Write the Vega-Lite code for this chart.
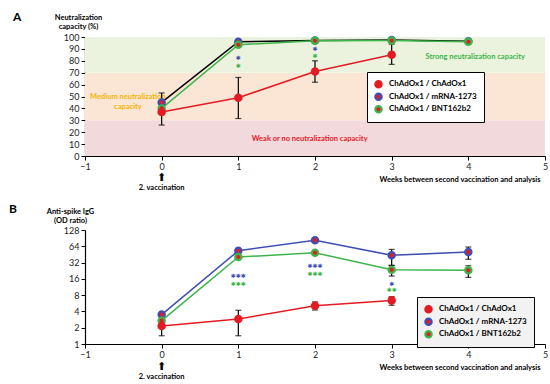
{
  "$schema": "https://vega.github.io/schema/vega-lite/v6.json",
  "background": "white",
  "padding": {"left": 9, "top": 11, "right": 2, "bottom": 0},
  "config": {
    "font": "Lato",
    "view": {"stroke": null},
    "axis": {"grid": false, "domainColor": "#000", "tickColor": "#000", "labelColor": "#222", "labelFontSize": 9, "tickSize": 4, "domainWidth": 1.2, "tickWidth": 1, "titleFontSize": 7.5, "titleFontWeight": "bold", "titleColor": "#000", "labelFlush": false, "labelOverlap": false, "titleLineHeight": 9}
  },
  "datasets": {
    "a": [
      {"week": 0, "group": "ChAdOx1 / mRNA-1273", "value": 45},
      {"week": 1, "group": "ChAdOx1 / mRNA-1273", "value": 96},
      {"week": 2, "group": "ChAdOx1 / mRNA-1273", "value": 97},
      {"week": 3, "group": "ChAdOx1 / mRNA-1273", "value": 97.5},
      {"week": 4, "group": "ChAdOx1 / mRNA-1273", "value": 96.5},
      {"week": 0, "group": "ChAdOx1 / BNT162b2", "value": 40},
      {"week": 1, "group": "ChAdOx1 / BNT162b2", "value": 93.5},
      {"week": 2, "group": "ChAdOx1 / BNT162b2", "value": 96.8},
      {"week": 3, "group": "ChAdOx1 / BNT162b2", "value": 97},
      {"week": 4, "group": "ChAdOx1 / BNT162b2", "value": 96},
      {"week": 0, "group": "ChAdOx1 / ChAdOx1", "value": 37},
      {"week": 1, "group": "ChAdOx1 / ChAdOx1", "value": 49},
      {"week": 2, "group": "ChAdOx1 / ChAdOx1", "value": 71},
      {"week": 3, "group": "ChAdOx1 / ChAdOx1", "value": 85}
    ],
    "aErr": [
      {"week": 0, "group": "ChAdOx1 / ChAdOx1", "value": 26, "value2": 53},
      {"week": 1, "group": "ChAdOx1 / ChAdOx1", "value": 31.5, "value2": 66},
      {"week": 2, "group": "ChAdOx1 / ChAdOx1", "value": 62, "value2": 80},
      {"week": 3, "group": "ChAdOx1 / ChAdOx1", "value": 77, "value2": 94}
    ],
    "aStar": [
      {"week": 1, "group": "ChAdOx1 / mRNA-1273", "value": 82.6, "label": "✱"},
      {"week": 1, "group": "ChAdOx1 / BNT162b2", "value": 75.6, "label": "✱"},
      {"week": 2, "group": "ChAdOx1 / mRNA-1273", "value": 89.6, "label": "✱"},
      {"week": 2, "group": "ChAdOx1 / BNT162b2", "value": 84, "label": "✱"}
    ],
    "bands": [
      {"band": "weak", "value": 0, "value2": 30},
      {"band": "medium", "value": 30, "value2": 70},
      {"band": "strong", "value": 70, "value2": 100}
    ],
    "b": [
      {"week": 0, "group": "ChAdOx1 / mRNA-1273", "value": 3.5},
      {"week": 1, "group": "ChAdOx1 / mRNA-1273", "value": 53},
      {"week": 2, "group": "ChAdOx1 / mRNA-1273", "value": 83},
      {"week": 3, "group": "ChAdOx1 / mRNA-1273", "value": 43.5},
      {"week": 4, "group": "ChAdOx1 / mRNA-1273", "value": 50},
      {"week": 0, "group": "ChAdOx1 / BNT162b2", "value": 2.7},
      {"week": 1, "group": "ChAdOx1 / BNT162b2", "value": 40.5},
      {"week": 2, "group": "ChAdOx1 / BNT162b2", "value": 48.6},
      {"week": 3, "group": "ChAdOx1 / BNT162b2", "value": 23.6},
      {"week": 4, "group": "ChAdOx1 / BNT162b2", "value": 23},
      {"week": 0, "group": "ChAdOx1 / ChAdOx1", "value": 2.15},
      {"week": 1, "group": "ChAdOx1 / ChAdOx1", "value": 2.9},
      {"week": 2, "group": "ChAdOx1 / ChAdOx1", "value": 5.1},
      {"week": 3, "group": "ChAdOx1 / ChAdOx1", "value": 6.4}
    ],
    "bErr": [
      {"week": 0, "group": "ChAdOx1 / ChAdOx1", "value": 1.42, "value2": 2.77},
      {"week": 1, "group": "ChAdOx1 / ChAdOx1", "value": 1.42, "value2": 4.2},
      {"week": 2, "group": "ChAdOx1 / ChAdOx1", "value": 4.25, "value2": 6.0},
      {"week": 3, "group": "ChAdOx1 / ChAdOx1", "value": 5.2, "value2": 7.5},
      {"week": 3, "group": "ChAdOx1 / mRNA-1273", "value": 28.4, "value2": 56},
      {"week": 4, "group": "ChAdOx1 / mRNA-1273", "value": 36.8, "value2": 62},
      {"week": 3, "group": "ChAdOx1 / BNT162b2", "value": 18, "value2": 28.4},
      {"week": 4, "group": "ChAdOx1 / BNT162b2", "value": 17, "value2": 27.9}
    ],
    "bStar": [
      {"week": 1, "group": "ChAdOx1 / mRNA-1273", "value": 18, "label": "✱✱✱"},
      {"week": 1, "group": "ChAdOx1 / BNT162b2", "value": 12.7, "label": "✱✱✱"},
      {"week": 2, "group": "ChAdOx1 / mRNA-1273", "value": 27.9, "label": "✱✱✱"},
      {"week": 2, "group": "ChAdOx1 / BNT162b2", "value": 19.6, "label": "✱✱✱"},
      {"week": 3, "group": "ChAdOx1 / mRNA-1273", "value": 13, "label": "✱"},
      {"week": 3, "group": "ChAdOx1 / BNT162b2", "value": 9.9, "label": "✱✱"}
    ]
  },
  "spacing": 74,
  "bounds": "flush",
  "resolve": {"scale": {"x": "independent", "y": "independent", "color": "independent", "stroke": "independent"}, "legend": {"stroke": "independent", "color": "independent"}},
  "vconcat": [
    {
      "width": 460,
      "height": 119,
      "title": {"text": "A", "anchor": "start", "frame": "group", "dx": -72, "dy": 11, "offset": 0, "fontSize": 12, "fontWeight": "bold", "color": "#000"},
      "resolve": {"scale": {"color": "independent", "stroke": "independent"}},
      "layer": [
        {
          "data": {"name": "bands"},
          "mark": {"type": "rect"},
          "encoding": {
            "x": {"datum": -1, "type": "quantitative", "scale": {"domain": [-1, 5]}, "title": "Weeks between second vaccination and analysis", "axis": {"values": [-1, 0, 1, 2, 3, 4, 5], "format": "d", "labelOverlap": false, "titleX": 455, "titleY": 23, "titleAlign": "right", "titleAnchor": null, "titleBaseline": "middle"}},
            "x2": {"datum": 5},
            "y": {"field": "value", "type": "quantitative", "scale": {"domain": [0, 100]}, "title": ["Neutralization", "capacity (%)"], "axis": {"values": [0, 10, 20, 30, 40, 50, 60, 70, 80, 90, 100], "labelOverlap": false, "titleAngle": 0, "titleAlign": "center", "titleBaseline": "bottom", "titleX": -7, "titleY": -16, "titleAnchor": null}},
            "y2": {"field": "value2"},
            "color": {"field": "band", "type": "nominal", "scale": {"domain": ["weak", "medium", "strong"], "range": ["#f2d9dc", "#fbe6d6", "#ebf3de"]}, "legend": null}
          }
        },
        {
          "data": {"values": [{}]},
          "mark": {"type": "text", "text": "Medium neutralization\ncapacity", "lineBreak": "\n", "fontSize": 7.5, "fontWeight": "bold", "color": "#f2b400", "lineHeight": 10},
          "encoding": {
            "x": {"datum": -0.44, "type": "quantitative", "title": "Weeks between second vaccination and analysis", "axis": {"values": [-1, 0, 1, 2, 3, 4, 5], "format": "d", "labelOverlap": false, "titleX": 455, "titleY": 23, "titleAlign": "right", "titleAnchor": null, "titleBaseline": "middle"}},
            "y": {"datum": 50, "type": "quantitative", "title": ["Neutralization", "capacity (%)"], "axis": {"values": [0, 10, 20, 30, 40, 50, 60, 70, 80, 90, 100], "labelOverlap": false, "titleAngle": 0, "titleAlign": "center", "titleBaseline": "bottom", "titleX": -7, "titleY": -16, "titleAnchor": null}}
          }
        },
        {
          "data": {"values": [{}]},
          "mark": {"type": "text", "text": "Strong neutralization capacity", "fontSize": 7.5, "fontWeight": "bold", "color": "#3cb44a"},
          "encoding": {
            "x": {"datum": 4.09, "type": "quantitative", "title": "Weeks between second vaccination and analysis", "axis": {"values": [-1, 0, 1, 2, 3, 4, 5], "format": "d", "labelOverlap": false, "titleX": 455, "titleY": 23, "titleAlign": "right", "titleAnchor": null, "titleBaseline": "middle"}},
            "y": {"datum": 83.2, "type": "quantitative", "title": ["Neutralization", "capacity (%)"], "axis": {"values": [0, 10, 20, 30, 40, 50, 60, 70, 80, 90, 100], "labelOverlap": false, "titleAngle": 0, "titleAlign": "center", "titleBaseline": "bottom", "titleX": -7, "titleY": -16, "titleAnchor": null}}
          }
        },
        {
          "data": {"values": [{}]},
          "mark": {"type": "text", "text": "Weak or no neutralization capacity", "fontSize": 7.5, "fontWeight": "bold", "color": "#e5202a"},
          "encoding": {
            "x": {"datum": 1.93, "type": "quantitative", "title": "Weeks between second vaccination and analysis", "axis": {"values": [-1, 0, 1, 2, 3, 4, 5], "format": "d", "labelOverlap": false, "titleX": 455, "titleY": 23, "titleAlign": "right", "titleAnchor": null, "titleBaseline": "middle"}},
            "y": {"datum": 14.5, "type": "quantitative", "title": ["Neutralization", "capacity (%)"], "axis": {"values": [0, 10, 20, 30, 40, 50, 60, 70, 80, 90, 100], "labelOverlap": false, "titleAngle": 0, "titleAlign": "center", "titleBaseline": "bottom", "titleX": -7, "titleY": -16, "titleAnchor": null}}
          }
        },
        {
          "data": {"name": "aErr"},
          "mark": {"type": "errorbar", "ticks": {"size": 6}, "color": "#000", "thickness": 1.2},
          "encoding": {
            "x": {"field": "week", "type": "quantitative", "title": "Weeks between second vaccination and analysis", "axis": {"values": [-1, 0, 1, 2, 3, 4, 5], "format": "d", "labelOverlap": false, "titleX": 455, "titleY": 23, "titleAlign": "right", "titleAnchor": null, "titleBaseline": "middle"}},
            "y": {"field": "value", "type": "quantitative", "title": ["Neutralization", "capacity (%)"], "axis": {"values": [0, 10, 20, 30, 40, 50, 60, 70, 80, 90, 100], "labelOverlap": false, "titleAngle": 0, "titleAlign": "center", "titleBaseline": "bottom", "titleX": -7, "titleY": -16, "titleAnchor": null}},
            "y2": {"field": "value2"}
          }
        },
        {
          "data": {"name": "a"},
          "mark": {"type": "line", "strokeWidth": 1.5},
          "encoding": {
            "x": {"field": "week", "type": "quantitative", "title": "Weeks between second vaccination and analysis", "axis": {"values": [-1, 0, 1, 2, 3, 4, 5], "format": "d", "labelOverlap": false, "titleX": 455, "titleY": 23, "titleAlign": "right", "titleAnchor": null, "titleBaseline": "middle"}},
            "y": {"field": "value", "type": "quantitative", "title": ["Neutralization", "capacity (%)"], "axis": {"values": [0, 10, 20, 30, 40, 50, 60, 70, 80, 90, 100], "labelOverlap": false, "titleAngle": 0, "titleAlign": "center", "titleBaseline": "bottom", "titleX": -7, "titleY": -16, "titleAnchor": null}},
            "color": {"field": "group", "type": "nominal", "scale": {"domain": ["ChAdOx1 / ChAdOx1", "ChAdOx1 / mRNA-1273", "ChAdOx1 / BNT162b2"], "range": ["#e31b23", "#000000", "#3cb44a"]}, "legend": null}
          }
        },
        {
          "data": {"name": "a"},
          "mark": {"type": "circle", "fill": "#e31b23", "size": 40, "strokeWidth": 2.2, "opacity": 1},
          "encoding": {
            "x": {"field": "week", "type": "quantitative", "title": "Weeks between second vaccination and analysis", "axis": {"values": [-1, 0, 1, 2, 3, 4, 5], "format": "d", "labelOverlap": false, "titleX": 455, "titleY": 23, "titleAlign": "right", "titleAnchor": null, "titleBaseline": "middle"}},
            "y": {"field": "value", "type": "quantitative", "title": ["Neutralization", "capacity (%)"], "axis": {"values": [0, 10, 20, 30, 40, 50, 60, 70, 80, 90, 100], "labelOverlap": false, "titleAngle": 0, "titleAlign": "center", "titleBaseline": "bottom", "titleX": -7, "titleY": -16, "titleAnchor": null}},
            "stroke": {"field": "group", "type": "nominal", "sort": null, "scale": {"domain": ["ChAdOx1 / ChAdOx1", "ChAdOx1 / mRNA-1273", "ChAdOx1 / BNT162b2"], "range": ["#e31b23", "#3f4fb3", "#3cb44a"]},
              "legend": {"title": null, "orient": "none", "legendX": 282, "legendY": 35, "fillColor": "#ffffff", "strokeColor": "#000", "padding": 7, "clipHeight": 10.5, "labelFontSize": 8, "labelFontWeight": "bold", "labelColor": "#000", "symbolSize": 40, "symbolStrokeWidth": 2.2, "symbolFillColor": "#e31b23", "symbolType": "circle", "rowPadding": 1.5, "labelOffset": 6}}
          }
        },
        {
          "data": {"name": "aStar"},
          "mark": {"type": "text", "font": "DejaVu Sans", "fontSize": 6, "baseline": "middle"},
          "encoding": {
            "x": {"field": "week", "type": "quantitative", "title": "Weeks between second vaccination and analysis", "axis": {"values": [-1, 0, 1, 2, 3, 4, 5], "format": "d", "labelOverlap": false, "titleX": 455, "titleY": 23, "titleAlign": "right", "titleAnchor": null, "titleBaseline": "middle"}},
            "y": {"field": "value", "type": "quantitative", "title": ["Neutralization", "capacity (%)"], "axis": {"values": [0, 10, 20, 30, 40, 50, 60, 70, 80, 90, 100], "labelOverlap": false, "titleAngle": 0, "titleAlign": "center", "titleBaseline": "bottom", "titleX": -7, "titleY": -16, "titleAnchor": null}},
            "text": {"field": "label"},
            "color": {"field": "group", "type": "nominal", "scale": {"domain": ["ChAdOx1 / mRNA-1273", "ChAdOx1 / BNT162b2"], "range": ["#3f4fb3", "#3cb44a"]}, "legend": null}
          }
        },
        {
          "data": {"values": [{}]},
          "mark": {"type": "text", "text": "⬆", "font": "DejaVu Sans", "fontSize": 11, "color": "#000", "baseline": "middle"},
          "encoding": {
            "x": {"datum": 0, "type": "quantitative", "title": "Weeks between second vaccination and analysis", "axis": {"values": [-1, 0, 1, 2, 3, 4, 5], "format": "d", "labelOverlap": false, "titleX": 455, "titleY": 23, "titleAlign": "right", "titleAnchor": null, "titleBaseline": "middle"}},
            "y": {"datum": -18.5, "type": "quantitative", "title": ["Neutralization", "capacity (%)"], "axis": {"values": [0, 10, 20, 30, 40, 50, 60, 70, 80, 90, 100], "labelOverlap": false, "titleAngle": 0, "titleAlign": "center", "titleBaseline": "bottom", "titleX": -7, "titleY": -16, "titleAnchor": null}}
          }
        },
        {
          "data": {"values": [{}]},
          "mark": {"type": "text", "text": "2. vaccination", "fontSize": 7.5, "fontWeight": "bold", "color": "#000", "baseline": "middle"},
          "encoding": {
            "x": {"datum": 0, "type": "quantitative", "title": "Weeks between second vaccination and analysis", "axis": {"values": [-1, 0, 1, 2, 3, 4, 5], "format": "d", "labelOverlap": false, "titleX": 455, "titleY": 23, "titleAlign": "right", "titleAnchor": null, "titleBaseline": "middle"}},
            "y": {"datum": -26.5, "type": "quantitative", "title": ["Neutralization", "capacity (%)"], "axis": {"values": [0, 10, 20, 30, 40, 50, 60, 70, 80, 90, 100], "labelOverlap": false, "titleAngle": 0, "titleAlign": "center", "titleBaseline": "bottom", "titleX": -7, "titleY": -16, "titleAnchor": null}}
          }
        }
      ]
    },
    {
      "width": 460,
      "height": 114,
      "title": {"text": "B", "anchor": "start", "frame": "group", "dx": -76, "dy": 9, "offset": 0, "fontSize": 12, "fontWeight": "bold", "color": "#000"},
      "resolve": {"scale": {"color": "independent", "stroke": "independent"}},
      "layer": [
        {
          "data": {"name": "bErr"},
          "mark": {"type": "errorbar", "ticks": {"size": 6}, "color": "#000", "thickness": 1.2},
          "encoding": {
            "x": {"field": "week", "type": "quantitative", "scale": {"domain": [-1, 5]}, "title": "Weeks between second vaccination and analysis", "axis": {"values": [-1, 0, 1, 2, 3, 4, 5], "format": "d", "labelOverlap": false, "titleX": 455, "titleY": 23, "titleAlign": "right", "titleAnchor": null, "titleBaseline": "middle"}},
            "y": {"field": "value", "type": "quantitative", "scale": {"type": "log", "base": 2, "domain": [1, 128]}, "title": ["Anti-spike IgG", "(OD ratio)"], "axis": {"values": [1, 2, 4, 8, 16, 32, 64, 128], "format": "d", "labelOverlap": false, "titleAngle": 0, "titleAlign": "center", "titleBaseline": "bottom", "titleX": -15, "titleY": -15, "titleAnchor": null}},
            "y2": {"field": "value2"}
          }
        },
        {
          "data": {"name": "b"},
          "mark": {"type": "line", "strokeWidth": 1.5},
          "encoding": {
            "x": {"field": "week", "type": "quantitative", "title": "Weeks between second vaccination and analysis", "axis": {"values": [-1, 0, 1, 2, 3, 4, 5], "format": "d", "labelOverlap": false, "titleX": 455, "titleY": 23, "titleAlign": "right", "titleAnchor": null, "titleBaseline": "middle"}},
            "y": {"field": "value", "type": "quantitative", "title": ["Anti-spike IgG", "(OD ratio)"], "axis": {"values": [1, 2, 4, 8, 16, 32, 64, 128], "format": "d", "labelOverlap": false, "titleAngle": 0, "titleAlign": "center", "titleBaseline": "bottom", "titleX": -15, "titleY": -15, "titleAnchor": null}},
            "color": {"field": "group", "type": "nominal", "scale": {"domain": ["ChAdOx1 / ChAdOx1", "ChAdOx1 / mRNA-1273", "ChAdOx1 / BNT162b2"], "range": ["#e31b23", "#3f4fb3", "#3cb44a"]}, "legend": null}
          }
        },
        {
          "data": {"name": "b"},
          "mark": {"type": "circle", "fill": "#e31b23", "size": 40, "strokeWidth": 2.2, "opacity": 1},
          "encoding": {
            "x": {"field": "week", "type": "quantitative", "title": "Weeks between second vaccination and analysis", "axis": {"values": [-1, 0, 1, 2, 3, 4, 5], "format": "d", "labelOverlap": false, "titleX": 455, "titleY": 23, "titleAlign": "right", "titleAnchor": null, "titleBaseline": "middle"}},
            "y": {"field": "value", "type": "quantitative", "title": ["Anti-spike IgG", "(OD ratio)"], "axis": {"values": [1, 2, 4, 8, 16, 32, 64, 128], "format": "d", "labelOverlap": false, "titleAngle": 0, "titleAlign": "center", "titleBaseline": "bottom", "titleX": -15, "titleY": -15, "titleAnchor": null}},
            "stroke": {"field": "group", "type": "nominal", "sort": null, "scale": {"domain": ["ChAdOx1 / ChAdOx1", "ChAdOx1 / mRNA-1273", "ChAdOx1 / BNT162b2"], "range": ["#e31b23", "#3f4fb3", "#3cb44a"]},
              "legend": {"title": null, "orient": "none", "legendX": 332, "legendY": 67, "fillColor": "#f2f2f2", "strokeColor": "#000", "padding": 7, "clipHeight": 10.5, "labelFontSize": 8, "labelFontWeight": "bold", "labelColor": "#000", "symbolSize": 40, "symbolStrokeWidth": 2.2, "symbolFillColor": "#e31b23", "symbolType": "circle", "rowPadding": 1.5, "labelOffset": 6}}
          }
        },
        {
          "data": {"name": "bStar"},
          "mark": {"type": "text", "font": "DejaVu Sans", "fontSize": 6, "baseline": "middle"},
          "encoding": {
            "x": {"field": "week", "type": "quantitative", "title": "Weeks between second vaccination and analysis", "axis": {"values": [-1, 0, 1, 2, 3, 4, 5], "format": "d", "labelOverlap": false, "titleX": 455, "titleY": 23, "titleAlign": "right", "titleAnchor": null, "titleBaseline": "middle"}},
            "y": {"field": "value", "type": "quantitative", "title": ["Anti-spike IgG", "(OD ratio)"], "axis": {"values": [1, 2, 4, 8, 16, 32, 64, 128], "format": "d", "labelOverlap": false, "titleAngle": 0, "titleAlign": "center", "titleBaseline": "bottom", "titleX": -15, "titleY": -15, "titleAnchor": null}},
            "text": {"field": "label"},
            "color": {"field": "group", "type": "nominal", "scale": {"domain": ["ChAdOx1 / mRNA-1273", "ChAdOx1 / BNT162b2"], "range": ["#3f4fb3", "#3cb44a"]}, "legend": null}
          }
        },
        {
          "data": {"values": [{}]},
          "mark": {"type": "text", "text": "⬆", "font": "DejaVu Sans", "fontSize": 11, "color": "#000", "baseline": "middle"},
          "encoding": {
            "x": {"datum": 0, "type": "quantitative", "title": "Weeks between second vaccination and analysis", "axis": {"values": [-1, 0, 1, 2, 3, 4, 5], "format": "d", "labelOverlap": false, "titleX": 455, "titleY": 23, "titleAlign": "right", "titleAnchor": null, "titleBaseline": "middle"}},
            "y": {"datum": 0.38, "type": "quantitative", "title": ["Anti-spike IgG", "(OD ratio)"], "axis": {"values": [1, 2, 4, 8, 16, 32, 64, 128], "format": "d", "labelOverlap": false, "titleAngle": 0, "titleAlign": "center", "titleBaseline": "bottom", "titleX": -15, "titleY": -15, "titleAnchor": null}}
          }
        },
        {
          "data": {"values": [{}]},
          "mark": {"type": "text", "text": "2. vaccination", "fontSize": 7.5, "fontWeight": "bold", "color": "#000", "baseline": "middle"},
          "encoding": {
            "x": {"datum": 0, "type": "quantitative", "title": "Weeks between second vaccination and analysis", "axis": {"values": [-1, 0, 1, 2, 3, 4, 5], "format": "d", "labelOverlap": false, "titleX": 455, "titleY": 23, "titleAlign": "right", "titleAnchor": null, "titleBaseline": "middle"}},
            "y": {"datum": 0.25, "type": "quantitative", "title": ["Anti-spike IgG", "(OD ratio)"], "axis": {"values": [1, 2, 4, 8, 16, 32, 64, 128], "format": "d", "labelOverlap": false, "titleAngle": 0, "titleAlign": "center", "titleBaseline": "bottom", "titleX": -15, "titleY": -15, "titleAnchor": null}}
          }
        }
      ]
    }
  ]
}
